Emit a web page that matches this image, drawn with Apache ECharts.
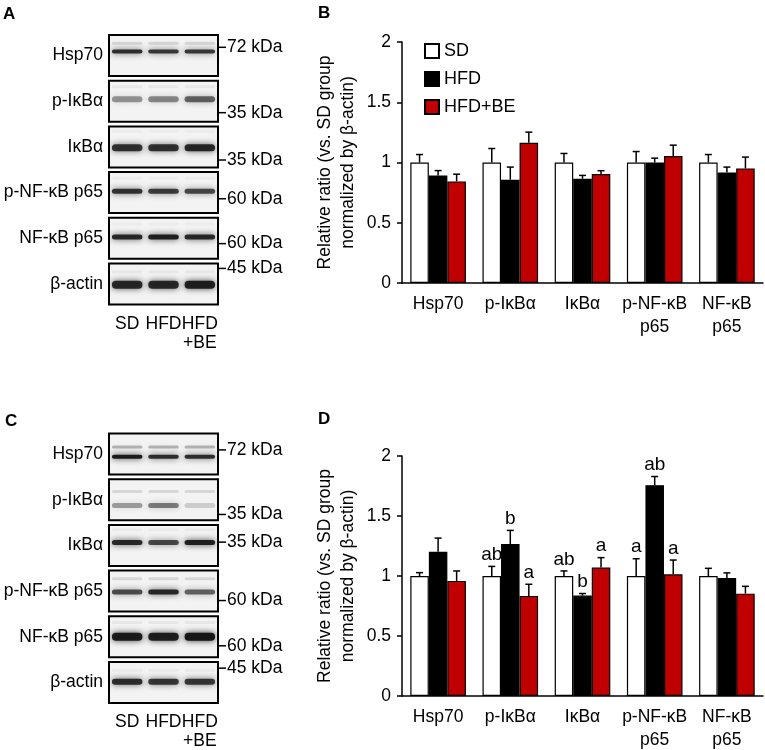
<!DOCTYPE html>
<html>
<head>
<meta charset="utf-8">
<script src="https://cdn.jsdelivr.net/npm/echarts@6/dist/echarts.min.js"></script>
<style>
  html, body { margin: 0; padding: 0; background: #fff; }
  #chart { width: 765px; height: 750px; }
</style>
</head>
<body>
<div id="chart"></div>
<script>
// groups and targets
const groups = ['SD', 'HFD', 'HFD+BE'];
const lanes = ['SD', 'HFD', 'HFD\n+BE'];
const proteins = ['Hsp70', 'p-IκBα', 'IκBα', 'p-NF-κB\np65', 'NF-κB\np65'];
const blotRows = ['Hsp70', 'p-IκBα', 'IκBα', 'p-NF-κB p65', 'NF-κB p65', 'β-actin'];
const markers = ['72 kDa', '35 kDa', '35 kDa', '60 kDa', '60 kDa', '45 kDa'];

// panel B: means and SEM
const bSD = [1, 1, 1, 1, 1];
const bHFD = [0.893, 0.857, 0.865, 1.0, 0.918];
const bHFDBE = [0.843, 1.164, 0.904, 1.053, 0.951];
const bSDErr = [0.066, 0.116, 0.075, 0.091, 0.066];
const bHFDErr = [0.04, 0.105, 0.028, 0.036, 0.044];
const bHFDBEErr = [0.06, 0.088, 0.028, 0.091, 0.094];

// panel D: means, SEM and letters
const dSD = [1, 1, 1, 1, 1];
const dHFD = [1.202, 1.266, 0.837, 1.757, 0.984];
const dHFDBE = [0.959, 0.834, 1.07, 1.014, 0.853];
const dSDErr = [0.028, 0.08, 0.042, 0.144, 0.064];
const dHFDErr = [0.114, 0.114, 0.017, 0.072, 0.042];
const dHFDBEErr = [0.083, 0.097, 0.083, 0.119, 0.061];
const dSDLetters = ['', 'ab', 'ab', 'a', ''];
const dHFDLetters = ['', 'b', 'b', 'ab', ''];
const dHFDBELetters = ['', 'a', 'a', 'a', ''];

// blots (band position from top of strip, darkness per lane)
const aBandPos = [0.4, 0.45, 0.52, 0.47, 0.47, 0.52];
const aBandInt = [[0.85, 0.8, 0.8], [0.4, 0.45, 0.6], [0.82, 0.82, 0.88], [0.82, 0.78, 0.72], [0.88, 0.92, 0.88], [0.88, 0.88, 0.93]];
const aBandH = [4, 6, 7, 5, 5, 8];
const aFaintPos = [0.2, 0.15, 0.12, 0.15, 0.15, 0.2];
const aFaintInt = [0.12, 0.05, 0.03, 0.03, 0.03, 0.05];
const aMarkPos = [0.3, 0.78, 0.82, 0.65, 0.63, 0.12];

const cBandPos = [0.57, 0.64, 0.43, 0.52, 0.5, 0.48];
const cBandInt = [[0.95, 0.85, 0.85], [0.36, 0.5, 0.16], [0.88, 0.72, 0.93], [0.7, 0.88, 0.6], [0.95, 0.92, 0.98], [0.85, 0.8, 0.8]];
const cBandH = [4, 5, 5, 5, 8, 6];
const cFaintPos = [0.33, 0.3, 0.12, 0.2, 0.15, 0.2];
const cFaintInt = [0.28, 0.12, 0.04, 0.12, 0.05, 0.04];
const cMarkPos = [0.4, 0.86, 0.42, 0.73, 0.72, 0.15];

const FONT = 'Liberation Sans, Arial, sans-serif';
const RED = '#c00000';

const myChart = echarts.init(document.getElementById('chart'));

const blotLeft = 109, blotW = 109, blotH = 41, rowStep = 45.7;
const blotTopA = 35, blotTopC = 433.5;

const grid = [], xAxis = [], yAxis = [], series = [], graphic = [];

const bandItem = (params, api) => {
  const c = api.coord([api.value(0), api.value(1)]);
  const w = api.size([1, 0])[0] * 0.84;
  const h = api.value(3);
  const a = api.value(2);
  return {
    type: 'rect',
    shape: { x: c[0] - w / 2, y: c[1] - h / 2, width: w, height: h, r: h / 2 },
    style: { fill: 'rgba(20,20,20,' + a + ')', shadowBlur: 6, shadowColor: 'rgba(20,20,20,' + a * 0.9 + ')' }
  };
};

const addBlot = (top, bandPos, bandInt, bandH, faintPos, faintInt, markPos) => {
  blotRows.forEach((name, r) => {
    const idx = grid.length;
    const y0 = top + r * rowStep;
    grid.push({
      left: blotLeft, top: y0, width: blotW, height: blotH,
      show: true, borderColor: '#000', borderWidth: 2, backgroundColor: '#f3f3f3',
      outerBoundsMode: 'none'
    });
    const last = r === blotRows.length - 1;
    xAxis.push({
      gridIndex: idx, type: 'category', data: lanes,
      axisLine: { show: false }, axisTick: { show: false }, splitLine: { show: false },
      axisLabel: {
        show: last, interval: 0, hideOverlap: false, color: '#000',
        fontSize: 17.5, fontFamily: FONT, margin: 10, lineHeight: 19
      }
    });
    yAxis.push({ gridIndex: idx, type: 'value', min: 0, max: 1, inverse: true, show: false });
    const data = [];
    lanes.forEach((l, k) => {
      data.push([k, faintPos[r], faintInt[r], 3]);
      data.push([k, bandPos[r], bandInt[r][k], bandH[r]]);
    });
    series.push({
      type: 'custom', xAxisIndex: idx, yAxisIndex: idx, clip: true, silent: true,
      renderItem: bandItem, data
    });
    // row label and size marker
    const ym = y0 + blotH * markPos[r];
    graphic.push({
      type: 'text', x: blotLeft - 6, y: y0 + blotH / 2,
      style: { text: name, fill: '#000', font: '17.5px ' + FONT, align: 'right', verticalAlign: 'middle' }
    });
    graphic.push({
      type: 'line', shape: { x1: blotLeft + blotW, y1: ym, x2: blotLeft + blotW + 8, y2: ym },
      style: { stroke: '#000', lineWidth: 1.5 }
    });
    graphic.push({
      type: 'text', x: blotLeft + blotW + 9, y: ym,
      style: { text: markers[r], fill: '#000', font: '17.5px ' + FONT, verticalAlign: 'middle' }
    });
  });
};

addBlot(blotTopA, aBandPos, aBandInt, aBandH, aFaintPos, aFaintInt, aMarkPos);
addBlot(blotTopC, cBandPos, cBandInt, cBandH, cFaintPos, cFaintInt, cMarkPos);

const errItem = (offset, letters) => (params, api) => {
  const cat = api.value(0);
  const mean = api.value(1);
  const base = api.coord([cat, mean]);
  const tip = api.coord([cat, mean + api.value(2)]);
  const bw = api.size([1, 0])[0] * 0.77 / 3;
  const x = base[0] + offset * bw;
  const children = [
    { type: 'line', shape: { x1: x, y1: base[1], x2: x, y2: tip[1] }, style: { stroke: '#000', lineWidth: 1.5 } },
    { type: 'line', shape: { x1: x - 3.5, y1: tip[1], x2: x + 3.5, y2: tip[1] }, style: { stroke: '#000', lineWidth: 1.5 } }
  ];
  const t = letters ? letters[params.dataIndex] : '';
  if (t) {
    children.push({
      type: 'text', x: x, y: tip[1] - 2,
      style: { text: t, fill: '#000', font: '19px ' + FONT, align: 'center', verticalAlign: 'bottom' }
    });
  }
  return { type: 'group', children };
};

const addBars = (top, height, means, errs, letters) => {
  const idx = grid.length;
  grid.push({ left: 402, top, width: 361, height, outerBoundsMode: 'none' });
  xAxis.push({
    gridIndex: idx, type: 'category', data: proteins,
    axisLine: { lineStyle: { color: '#000', width: 1.5 } },
    axisTick: { show: false },
    axisLabel: { color: '#000', fontSize: 17.5, fontFamily: FONT, margin: 10, lineHeight: 23, interval: 0 }
  });
  yAxis.push({
    gridIndex: idx, type: 'value', min: 0, max: 2, interval: 0.5,
    name: 'Relative ratio (vs. SD group\nnormalized by β-actin)',
    nameLocation: 'middle', nameGap: 42,
    nameTextStyle: { color: '#000', fontSize: 17.5, fontFamily: FONT, lineHeight: 23, align: 'center' },
    axisLine: { show: true, lineStyle: { color: '#000', width: 1.5 } },
    axisTick: { show: true, length: 5, lineStyle: { color: '#000', width: 1.5 } },
    axisLabel: { color: '#000', fontSize: 17.5, fontFamily: FONT, margin: 11 },
    splitLine: { show: false }
  });
  const colors = ['#fff', '#000', RED];
  groups.forEach((g, k) => {
    series.push({
      name: g, type: 'bar', xAxisIndex: idx, yAxisIndex: idx,
      barGap: '0%', barCategoryGap: '23%',
      itemStyle: { color: colors[k], borderColor: '#000', borderWidth: 1.2 },
      data: means[k]
    });
  });
  groups.forEach((g, k) => {
    series.push({
      type: 'custom', xAxisIndex: idx, yAxisIndex: idx, silent: true, z: 3,
      renderItem: errItem(k - 1, letters ? letters[k] : null),
      encode: { x: 0, y: 1 },
      data: means[k].map((v, i) => [i, v, errs[k][i]])
    });
  });
};

addBars(42, 241, [bSD, bHFD, bHFDBE], [bSDErr, bHFDErr, bHFDBEErr], null);
addBars(456, 240, [dSD, dHFD, dHFDBE], [dSDErr, dHFDErr, dHFDBEErr], [dSDLetters, dHFDLetters, dHFDBELetters]);

// panel letters
[['A', 3, 14], ['B', 318, 13], ['C', 5, 421], ['D', 318, 419]].forEach(p => {
  graphic.push({
    type: 'text', x: p[1], y: p[2],
    style: { text: p[0], fill: '#000', font: 'bold 17px ' + FONT, verticalAlign: 'middle' }
  });
});

const option = {
  animation: false,
  backgroundColor: '#fff',
  legend: {
    data: groups, orient: 'vertical', left: 424, top: 42, padding: 0,
    itemWidth: 14, itemHeight: 14, itemGap: 10, icon: 'rect',
    textStyle: { color: '#000', fontSize: 18, fontFamily: FONT },
    selectedMode: false
  },
  grid, xAxis, yAxis, series, graphic
};
myChart.setOption(option);
</script>
</body>
</html>
